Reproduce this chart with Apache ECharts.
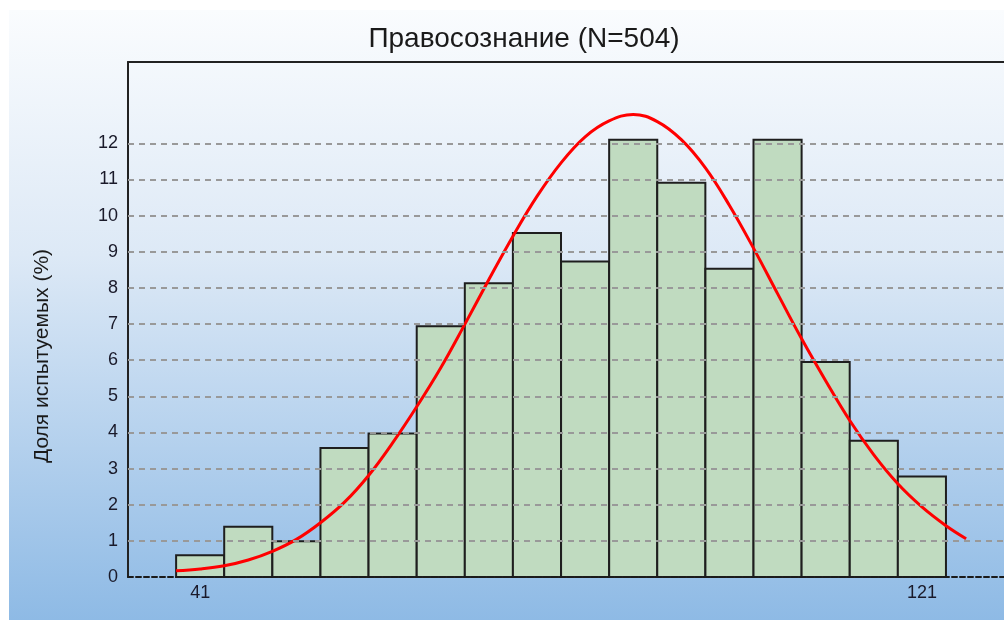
<!DOCTYPE html>
<html>
<head>
<meta charset="utf-8">
<title>Правосознание</title>
<script src="https://cdn.jsdelivr.net/npm/echarts@6/dist/echarts.min.js"></script>
<style>
  html, body { margin: 0; padding: 0; background: #ffffff; }
  #main {
    position: absolute; left: 9px; top: 10px; width: 995px; height: 610px;
    background: linear-gradient(to bottom, #fafcfe 0%, #dde9f6 40%, #8ebae5 100%);
  }
</style>
</head>
<body>
<div id="main"></div>
<script>
  // histogram data (percent of respondents per bin)
  const chartTitle = 'Правосознание (N=504)';
  const yAxisTitle = 'Доля испытуемых (%)';
  const binCenters = [41, 46.33, 51.67, 57, 62.33, 67.67, 73, 78.33, 83.67, 89, 94.33, 99.67, 105, 110.33, 115.67, 121];
  const binWidth = 5.333;
  const percents = [0.6, 1.39, 0.99, 3.57, 3.97, 6.94, 8.13, 9.52, 8.73, 12.1, 10.91, 8.53, 12.1, 5.95, 3.77, 2.78];

  // normal curve, every half bin
  const curveX = [38.33, 41, 43.67, 46.33, 49, 51.67, 54.33, 57, 59.67, 62.33, 65, 67.67, 70.33, 73, 75.67, 78.33, 81, 83.67, 86.33, 89, 91.67, 94.33, 97, 99.67, 102.33, 105, 107.67, 110.33, 113, 115.67, 118.33, 121, 123.67, 125.9];
  const curveY = [0.17, 0.22, 0.31, 0.47, 0.71, 1.04, 1.5, 2.07, 2.81, 3.71, 4.71, 5.79, 6.99, 8.23, 9.43, 10.53, 11.46, 12.18, 12.62, 12.8, 12.6, 12.1, 11.32, 10.28, 9.1, 7.84, 6.59, 5.43, 4.33, 3.38, 2.58, 1.94, 1.42, 1.06];

  const xTickLabels = [41, 121];
  const yTickValues = [1, 2, 3, 4, 5, 6, 7, 8, 9, 10, 11, 12];

  const chart = echarts.init(document.getElementById('main'));

  const font = 'Liberation Sans';

  const options = {
    animation: false,
    backgroundColor: 'transparent',
    title: {
      text: chartTitle,
      left: 510,
      top: 10,
      textAlign: 'center',
      textStyle: { fontFamily: font, fontSize: 28, fontWeight: 'normal', color: '#1a1a1a' }
    },
    graphic: [{
      type: 'text',
      x: 33,
      y: 346,
      rotation: Math.PI / 2,
      style: {
        text: yAxisTitle,
        fontFamily: font,
        fontSize: 21,
        fill: '#1a1a1a',
        align: 'center',
        verticalAlign: 'middle'
      }
    }],
    grid: { left: 119, right: 0, top: 52, bottom: 43 },
    xAxis: [{
      type: 'value',
      min: 33,
      max: 130.1,
      z: 5,
      splitLine: { show: false },
      axisTick: { show: false },
      axisLine: { lineStyle: { color: '#1a1a1a', width: 2, type: [5, 3] } },
      axisLabel: {
        customValues: xTickLabels,
        fontFamily: font, fontSize: 18, color: '#1a1a2a', margin: 7
      }
    }, {
      type: 'value',
      position: 'top',
      min: 33,
      max: 130.1,
      splitLine: { show: false },
      axisTick: { show: false },
      axisLabel: { show: false },
      axisLine: { lineStyle: { color: '#222', width: 2 } }
    }],
    yAxis: {
      type: 'value',
      min: 0,
      max: 14.25,
      interval: 1,
      splitLine: { show: false },
      axisTick: { show: false },
      axisLine: { show: true, lineStyle: { color: '#222', width: 2 } },
      axisLabel: {
        formatter: (v) => (v <= 12 ? String(v) : ''),
        fontFamily: font, fontSize: 18, color: '#1a1a2a', margin: 10
      }
    },
    series: [
      {
        type: 'line',
        data: [],
        z: 1,
        silent: true,
        markLine: {
          symbol: 'none',
          silent: true,
          label: { show: false },
          lineStyle: { color: '#999999', type: [6, 5], width: 2 },
          data: yTickValues.map((v) => ({ yAxis: v }))
        }
      },
      {
        type: 'custom',
        z: 2,
        data: binCenters.map((c, i) => [c, percents[i]]),
        encode: { x: 0, y: 1 },
        renderItem: function (params, api) {
          const c = api.value(0);
          const v = api.value(1);
          const p0 = api.coord([c - binWidth / 2, v]);
          const p1 = api.coord([c + binWidth / 2, 0]);
          return {
            type: 'rect',
            shape: { x: p0[0], y: p0[1], width: p1[0] - p0[0], height: p1[1] - p0[1] },
            style: { fill: '#c0dbc0', stroke: '#1e1e1e', lineWidth: 2 }
          };
        }
      },
      {
        type: 'line',
        z: 3,
        smooth: 0.4,
        symbol: 'none',
        data: curveX.map((x, i) => [x, curveY[i]]),
        lineStyle: { color: '#ff0000', width: 3 }
      }
    ]
  };

  chart.setOption(options);
</script>
</body>
</html>
